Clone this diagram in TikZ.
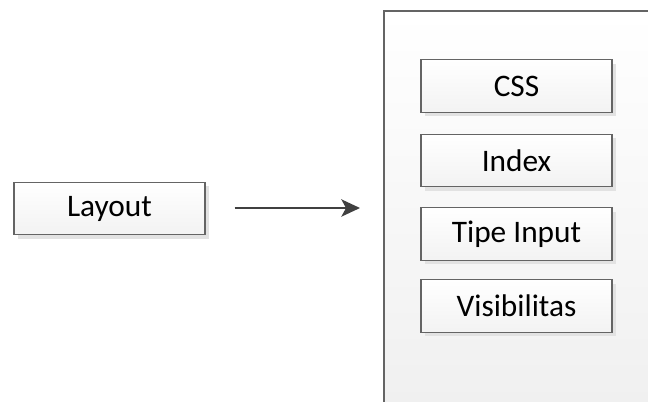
\documentclass[tikz,border=0pt]{standalone}
\usepackage{fontspec}
\setmainfont{Carlito}
\usetikzlibrary{shadows,arrows.meta}
\definecolor{edge}{HTML}{646464}
\definecolor{shadowc}{HTML}{E2E2E2}
\definecolor{arrowc}{HTML}{404040}
\tikzset{
  box/.style={draw=edge, line width=0.8pt, top color=white, bottom color=black!5,
    minimum width=143.25pt, minimum height=39.5pt, inner sep=0pt,
    font=\fontsize{23.5}{28}\selectfont,
    drop shadow={shadow xshift=3pt, shadow yshift=-3pt, fill=shadowc, opacity=1}},
  container/.style={draw=edge, line width=0.8pt, top color=white, bottom color=black!6},
  conn/.style={draw=arrowc, line width=1.3pt, -{Stealth[length=14pt,width=13pt,inset=3.5pt]}}
}
\begin{document}
\begin{tikzpicture}[x=0.75pt,y=-0.75pt]
\useasboundingbox (0,0) rectangle (648,401);
\clip (0,0) rectangle (648,401);
\fill[white] (0,0) rectangle (648,401);
\path[container] (384,11) rectangle (660,412);
\coordinate (cw) at (384,208);
\node[box] (layout) at (109.5,208.5) {Layout};
\node[box] (css) at (516.5,86) {CSS};
\node[box] (index) at (516.5,160.5) {Index};
\node[box] (tipe) at (516.5,234) {Tipe Input};
\node[box] (vis) at (516.5,306) {Visibilitas};
\draw[conn, shorten <=21.75pt, shorten >=18pt] (layout.east |- cw) -- (cw);
\end{tikzpicture}
\end{document}
